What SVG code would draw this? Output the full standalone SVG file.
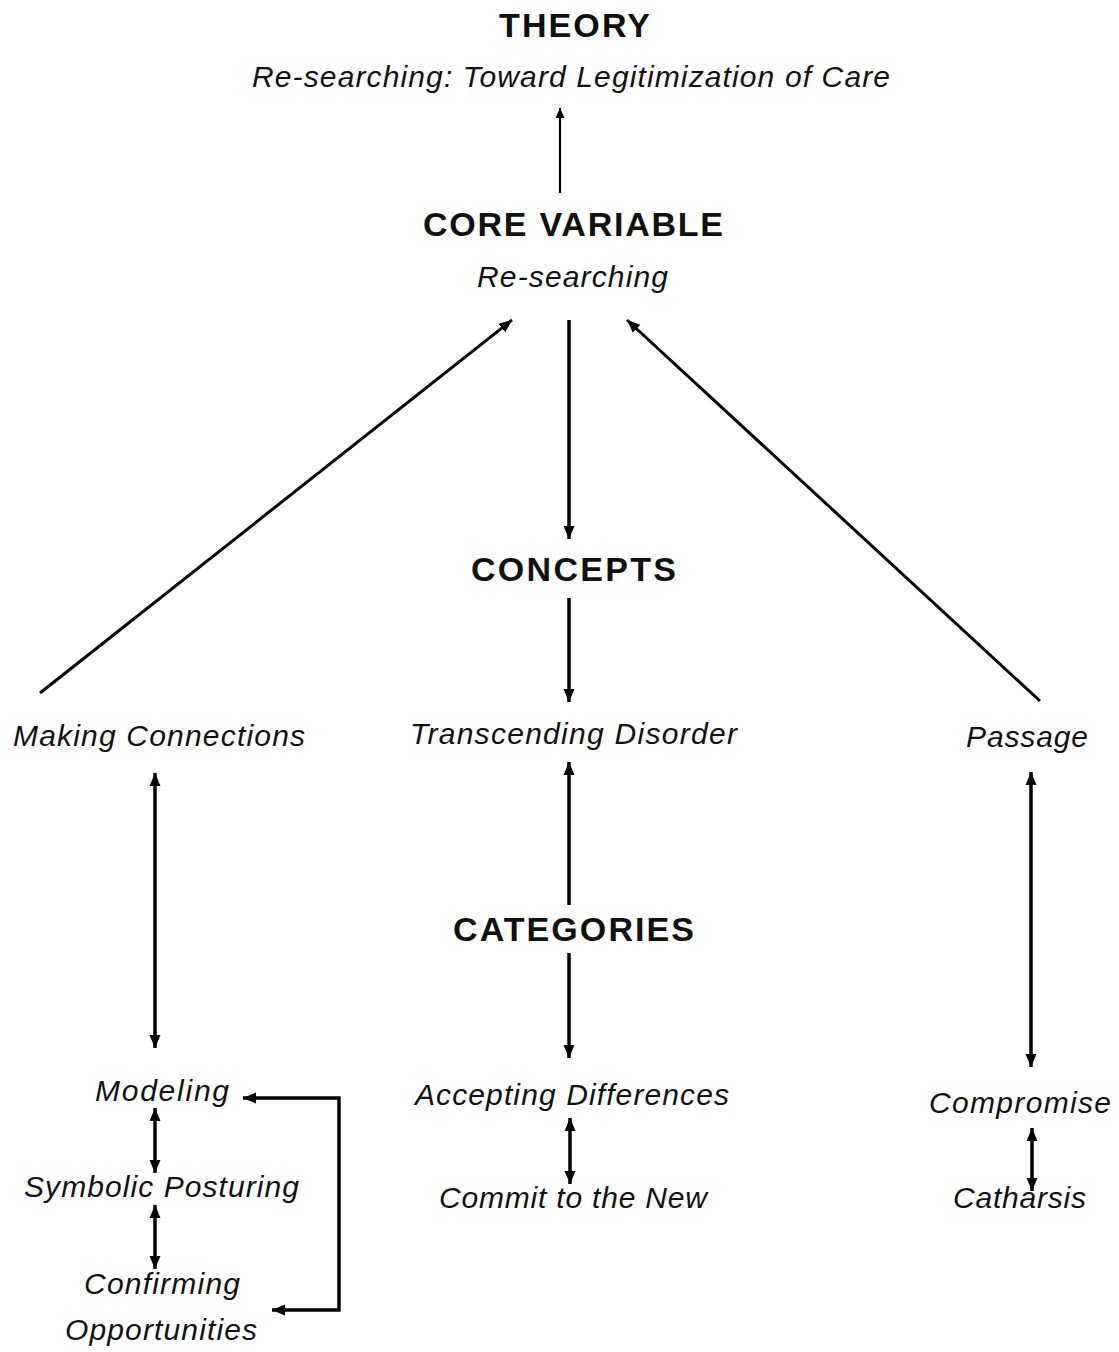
<svg xmlns="http://www.w3.org/2000/svg" width="1119" height="1352" viewBox="0 0 1119 1352">
  <style>
    .h { font-family: "Liberation Sans", Arial, Helvetica, sans-serif; font-weight: bold; font-size: 34px; fill: #111; }
    .i { font-family: "Liberation Sans", Arial, Helvetica, sans-serif; font-style: italic; font-size: 30px; fill: #111; }
    .c { fill: none; stroke: #000; stroke-width: 3.5; }
    .d { stroke-width: 3; }
    .thin { stroke-width: 2.2; }
    .ab { marker-end: url(#ah); }
    .bi { marker-start: url(#ah); marker-end: url(#ah); }
  </style>
  <defs>
    <marker id="ah" markerUnits="userSpaceOnUse" markerWidth="14" markerHeight="12" viewBox="0 0 14 12" refX="13" refY="6" orient="auto-start-reverse">
      <path d="M0,0.5 L13,6 L0,11.5 Z" fill="#000"/>
    </marker>
    <marker id="ahs" markerUnits="userSpaceOnUse" markerWidth="10" markerHeight="9" viewBox="0 0 10 9" refX="10" refY="4.5" orient="auto">
      <path d="M0,0 L10,4.5 L0,9 Z" fill="#000"/>
    </marker>
  </defs>
  <rect width="1119" height="1352" fill="#fff"/>

  <g id="connectors">
    <line class="c thin" x1="560" y1="193" x2="560" y2="108" marker-end="url(#ahs)"/>
    <line class="c ab" x1="569" y1="320" x2="569" y2="539"/>
    <line class="c ab" x1="569" y1="598" x2="569" y2="702"/>
    <line class="c d ab" x1="40" y1="693" x2="512" y2="320"/>
    <line class="c d ab" x1="1040" y1="701" x2="627" y2="320"/>
    <line class="c bi" x1="155" y1="773" x2="155" y2="1048"/>
    <line class="c ab" x1="569" y1="905" x2="569" y2="762"/>
    <line class="c ab" x1="569" y1="953" x2="569" y2="1058"/>
    <line class="c bi" x1="1031" y1="772" x2="1031" y2="1067"/>
    <line class="c bi" x1="155" y1="1108" x2="155" y2="1173"/>
    <line class="c bi" x1="155" y1="1205" x2="155" y2="1269"/>
    <path class="c bi" d="M243,1098 L339,1098 L339,1310 L272,1310"/>
    <line class="c bi" x1="570" y1="1118" x2="570" y2="1184"/>
    <line class="c bi" x1="1032" y1="1128" x2="1032" y2="1191"/>
  </g>

  <g id="theory">
    <text class="h" x="499" y="37" textLength="151" lengthAdjust="spacing">THEORY</text>
    <text class="i" x="252" y="87" textLength="638" lengthAdjust="spacing">Re-searching:  Toward Legitimization of Care</text>
  </g>
  <g id="core-variable">
    <text class="h" x="423" y="236" textLength="300" lengthAdjust="spacing">CORE VARIABLE</text>
    <text class="i" x="477" y="287" textLength="191" lengthAdjust="spacing">Re-searching</text>
  </g>
  <g id="concepts">
    <text class="h" x="471" y="581" textLength="205" lengthAdjust="spacing">CONCEPTS</text>
  </g>
  <g id="making-connections">
    <text class="i" x="13" y="746" textLength="292" lengthAdjust="spacing">Making Connections</text>
  </g>
  <g id="transcending-disorder">
    <text class="i" x="410" y="744" textLength="327" lengthAdjust="spacing">Transcending Disorder</text>
  </g>
  <g id="passage">
    <text class="i" x="966" y="747" textLength="122" lengthAdjust="spacing">Passage</text>
  </g>
  <g id="categories">
    <text class="h" x="453" y="941" textLength="241" lengthAdjust="spacing">CATEGORIES</text>
  </g>
  <g id="modeling">
    <text class="i" x="95" y="1101" textLength="134" lengthAdjust="spacing">Modeling</text>
  </g>
  <g id="symbolic-posturing">
    <text class="i" x="24" y="1197" textLength="275" lengthAdjust="spacing">Symbolic Posturing</text>
  </g>
  <g id="confirming-opportunities">
    <text class="i" x="84" y="1294" textLength="156" lengthAdjust="spacing">Confirming</text>
    <text class="i" x="65" y="1340" textLength="192" lengthAdjust="spacing">Opportunities</text>
  </g>
  <g id="accepting-differences">
    <text class="i" x="415" y="1105" textLength="314" lengthAdjust="spacing">Accepting Differences</text>
  </g>
  <g id="commit-to-the-new">
    <text class="i" x="439" y="1208" textLength="268" lengthAdjust="spacing">Commit to the New</text>
  </g>
  <g id="compromise">
    <text class="i" x="929" y="1113" textLength="182" lengthAdjust="spacing">Compromise</text>
  </g>
  <g id="catharsis">
    <text class="i" x="953" y="1208" textLength="133" lengthAdjust="spacing">Catharsis</text>
  </g>
</svg>
